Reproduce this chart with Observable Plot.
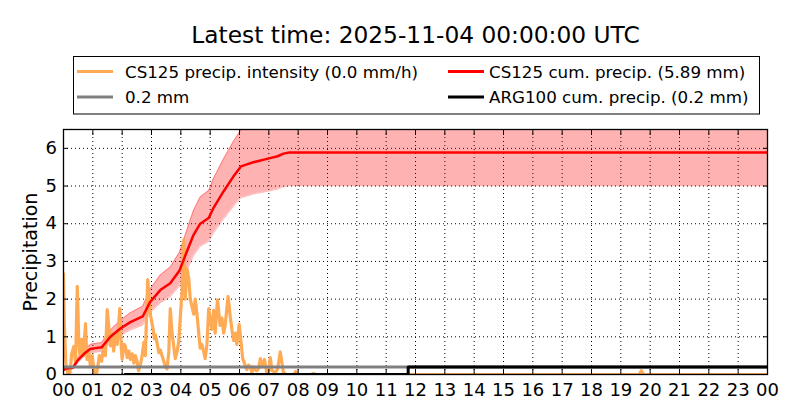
<!DOCTYPE html>
<html><head><meta charset="utf-8">
<script src="https://cdn.jsdelivr.net/npm/d3@7"></script>
<script src="https://cdn.jsdelivr.net/npm/@observablehq/plot@0.6"></script>
<style>
body{margin:0;background:#fff;font-family:"DejaVu Sans",sans-serif;}
#wrap{width:800px;height:420px;overflow:hidden;}
#wrap svg{display:block;}
</style>
</head><body><div id="wrap"></div><script>
// ---- data ----
const titleText = "Latest time: 2025-11-04 00:00:00 UTC";
const legendLabels = ["CS125 precip. intensity (0.0 mm/h)", "CS125 cum. precip. (5.89 mm)", "0.2 mm", "ARG100 cum. precip. (0.2 mm)"];
const yLabel = "Precipitation";
const hourTicks = d3.range(0, 25);
const hourTickLabels = ["00","01","02","03","04","05","06","07","08","09","10","11","12","13","14","15","16","17","18","19","20","21","22","23","00"];
const yTicks = [0, 1, 2, 3, 4, 5, 6];

const intensityHours = [0.00,0.03,0.08,0.15,0.22,0.28,0.35,0.41,0.47,0.52,0.56,0.62,0.68,0.75,0.80,0.86,0.92,0.98,1.05,1.12,1.18,1.22,1.30,1.37,1.43,1.49,1.55,1.60,1.66,1.71,1.77,1.83,1.92,1.97,2.00,2.06,2.11,2.17,2.23,2.28,2.34,2.40,2.45,2.50,2.56,2.62,2.68,2.74,2.79,2.87,2.92,2.96,3.05,3.10,3.13,3.20,3.25,3.30,3.36,3.42,3.47,3.53,3.59,3.64,3.70,3.75,3.81,3.87,3.93,3.98,4.04,4.10,4.15,4.21,4.27,4.32,4.38,4.44,4.49,4.55,4.61,4.66,4.72,4.78,4.83,4.89,4.95,5.00,5.06,5.12,5.17,5.25,5.34,5.40,5.46,5.51,5.61,5.69,5.74,5.80,5.86,5.91,5.99,6.06,6.11,6.20,6.25,6.31,6.37,6.42,6.48,6.54,6.59,6.65,6.71,6.76,6.85,6.93,7.00,7.05,7.10,7.16,7.22,7.30,7.39,7.45,7.50,7.60,7.85,7.92,8.00,8.45,8.52,8.60,19.62,19.70,19.78,24.00];
const intensityValues = [2.68,1.30,0.30,0.00,0.05,0.55,0.74,0.30,2.34,0.90,0.50,0.93,0.50,1.35,0.40,0.62,0.20,0.50,0.05,0.00,0.25,0.50,0.35,0.76,0.50,1.72,1.22,0.76,1.10,0.62,1.05,0.80,1.75,0.70,0.40,0.80,0.75,0.45,0.62,0.40,0.55,0.30,0.50,0.38,0.10,0.25,0.50,0.85,0.50,2.52,2.00,1.60,1.22,0.95,1.05,0.80,0.58,0.65,0.50,0.35,0.20,0.15,0.60,1.75,1.10,0.80,0.42,0.60,0.88,1.50,2.20,3.58,2.00,2.80,2.55,2.00,1.80,1.60,2.00,1.60,1.10,0.70,0.80,0.60,0.42,0.80,1.75,1.50,1.20,1.70,1.10,1.98,1.30,1.50,1.10,1.30,2.07,1.50,1.20,0.90,1.10,0.80,1.33,0.80,0.42,0.23,0.13,0.25,0.20,0.05,0.20,0.12,0.10,0.15,0.42,0.20,0.40,0.05,0.10,0.45,0.12,0.08,0.05,0.15,0.60,0.30,0.05,0.00,0.00,0.08,0.00,0.00,0.03,0.00,0.00,0.10,0.00,0.00];

const cumHours = [0,0.1,0.32,0.48,0.7,0.92,1.3,1.6,1.94,2.28,2.7,2.95,3.3,3.64,3.95,4.2,4.43,4.66,4.95,5.1,5.45,5.79,6.05,6.47,6.94,7.3,7.5,7.7,24];
const cumValues = [0.12,0.16,0.18,0.37,0.55,0.68,0.72,1.0,1.22,1.39,1.54,1.92,2.24,2.42,2.75,3.25,3.7,4.0,4.15,4.4,4.85,5.25,5.52,5.63,5.72,5.79,5.86,5.89,5.89];
const cumLower = [0.10,0.14,0.15,0.31,0.47,0.58,0.61,0.85,1.04,1.18,1.31,1.63,1.90,2.06,2.34,2.76,3.15,3.40,3.53,3.74,4.12,4.46,4.69,4.79,4.86,4.92,4.98,5.01,5.01];
const cumUpper = [0.14,0.19,0.21,0.44,0.65,0.80,0.85,1.18,1.44,1.64,1.81,2.26,2.64,2.85,3.24,3.82,4.35,4.71,4.88,5.18,5.71,6.18,6.49,6.62,6.73,6.81,6.89,6.93,6.93];

const thresholdValue = [0.2];
const argHours = [2.1, 11.75, 11.75, 24];
const argValues = [0, 0, 0.2, 0.2];

// ---- tables ----
const intensity = intensityHours.map((h, i) => ({h, v: intensityValues[i]}));
const cum = cumHours.map((h, i) => ({h, v: cumValues[i], lo: cumLower[i], hi: cumUpper[i]}));
const arg = argHours.map((h, i) => ({h, v: argValues[i]}));

const ORANGE = "#ffaa55", GREY = "#808080";
const FONT = "DejaVu Sans";

// ---- header (title + legend) ----
const header = d3.create("svg").attr("width", 800).attr("height", 120)
  .attr("font-family", FONT);
header.append("text").attr("x", 415.5).attr("y", 43).attr("text-anchor", "middle")
  .attr("font-size", 23.3).attr("fill", "black").text(titleText);
header.append("rect").attr("x", 73.5).attr("y", 56.5).attr("width", 686).attr("height", 57.5)
  .attr("fill", "white").attr("stroke", "black").attr("stroke-width", 1);
const legendItems = [
  {label: legendLabels[0], color: ORANGE, x: 77, tx: 125, y: 71.5},
  {label: legendLabels[1], color: "red", x: 448, tx: 489, y: 71.5},
  {label: legendLabels[2], color: GREY, x: 77, tx: 125, y: 97},
  {label: legendLabels[3], color: "black", x: 448, tx: 489, y: 97}
];
for (const it of legendItems) {
  header.append("line").attr("x1", it.x).attr("x2", it.x + 36).attr("y1", it.y).attr("y2", it.y)
    .attr("stroke", it.color).attr("stroke-width", 3);
  header.append("text").attr("x", it.tx).attr("y", it.y + 6).attr("font-size", 16.7)
    .attr("fill", "black").text(it.label);
}

// ---- chart ----
const dotted = {stroke: "black", strokeOpacity: 1, strokeWidth: 1, strokeDasharray: "1,3"};
const chart = Plot.plot({
  width: 800, height: 300,
  marginLeft: 63, marginRight: 33, marginTop: 9, marginBottom: 46,
  style: {fontFamily: FONT, background: "white", color: "black", overflow: "visible"},
  x: {domain: [0, 24]},
  y: {domain: [0, 6.5]},
  marks: [
    Plot.gridX(hourTicks, dotted),
    Plot.gridY(yTicks, dotted),
    Plot.areaY(cum, {x: "h", y1: "lo", y2: "hi", fill: "red", fillOpacity: 0.3, clip: true}),
    Plot.line(cum, {x: "h", y: "lo", stroke: "red", strokeOpacity: 0.3, strokeWidth: 1, clip: true}),
    Plot.line(cum, {x: "h", y: "hi", stroke: "red", strokeOpacity: 0.3, strokeWidth: 1, clip: true}),
    Plot.line(intensity, {x: "h", y: "v", stroke: ORANGE, strokeWidth: 3.2, strokeLinejoin: "round", clip: true}),
    Plot.line(cum, {x: "h", y: "v", stroke: "red", strokeWidth: 2.5, clip: true}),
    Plot.ruleY(thresholdValue, {stroke: GREY, strokeWidth: 3, clip: true}),
    Plot.line(arg, {x: "h", y: "v", stroke: "black", strokeWidth: 3, clip: true}),
    Plot.frame({stroke: "black", strokeWidth: 1.3}),
    // inward ticks on all four sides
    Plot.axisX(hourTicks, {anchor: "bottom", tickSize: -5, fill: "none", label: null}),
    Plot.axisX(hourTicks, {anchor: "top", tickSize: -5, fill: "none", label: null}),
    Plot.axisY(yTicks, {anchor: "left", tickSize: -5, fill: "none", label: null}),
    Plot.axisY(yTicks, {anchor: "right", tickSize: -5, fill: "none", label: null}),
    // tick labels
    Plot.axisX(hourTicks, {anchor: "bottom", tickSize: 0, tickPadding: 8.5, fontSize: 18,
      tickFormat: (d, i) => hourTickLabels[i], label: null}),
    Plot.axisY(yTicks, {anchor: "left", tickSize: 0, tickPadding: 6.5, fontSize: 18,
      tickFormat: d => String(d), label: null}),
    Plot.text([yLabel], {frameAnchor: "left", rotate: -90, dx: -33, fontSize: 19,
      textAnchor: "middle", lineAnchor: "middle", fill: "black"})
  ]
});

const wrap = document.getElementById("wrap");
wrap.appendChild(header.node());
wrap.appendChild(chart);
</script></body></html>
